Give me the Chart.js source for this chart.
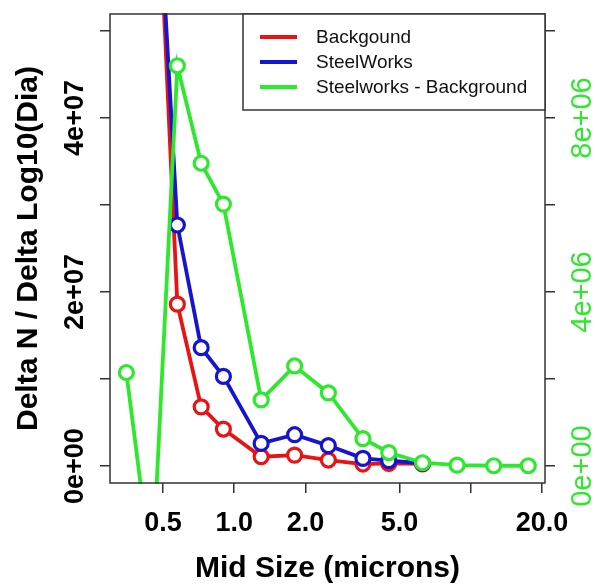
<!DOCTYPE html>
<html>
<head>
<meta charset="utf-8">
<script src="https://cdn.jsdelivr.net/npm/chart.js@4"></script>
<style>
  body { margin: 0; background: #fff; }
  canvas { display: block; }
</style>
</head>
<body>
<canvas id="sizeChart" width="595" height="586"></canvas>
<script>
// bin mid sizes (microns)
const midSizes = [0.35, 0.45, 0.575, 0.725, 0.9, 1.3, 1.8, 2.5, 3.5, 4.5, 6.25, 8.75, 12.5, 17.5];

// left axis
const background = [1.50e8, 8.2e7, 1.86e7, 6.8e6, 4.25e6, 1.07e6, 1.26e6, 6.9e5, 2.3e5, 3.0e5, 2.5e5];
const steelworks = [1.52e8, 7.95e7, 2.77e7, 1.36e7, 1.03e7, 2.6e6, 3.6e6, 2.35e6, 8.8e5, 6.2e5, 3.2e5];

// right axis
const difference = [2.15e6, -2.5e6, 9.2e6, 6.96e6, 6.02e6, 1.52e6, 2.30e6, 1.68e6, 6.3e5, 3.1e5, 7.6e4, 2.0e4, 7e3, 7e3];

const xTicks = [0.5, 1, 2, 5, 10, 20];
const xTickLabels = ["0.5", "1.0", "2.0", "5.0", "", "20.0"];
const leftTicks = [0, 1e7, 2e7, 3e7, 4e7, 5e7];
const leftTickLabels = ["0e+00", "", "2e+07", "", "4e+07", ""];
const rightTicks = [0, 2e6, 4e6, 6e6, 8e6, 10e6];
const rightTickLabels = ["0e+00", "", "4e+06", "", "8e+06", ""];

const RED = "#e81414";
const BLUE = "#1414d2";
const GREEN = "#2ee82e";
const AXIS = "#333";
const FONT = "'Liberation Sans', Arial, sans-serif";

function toPoints(values) {
  return values.map((y, i) => ({ x: midSizes[i], y }));
}

function lineSet(label, values, color, axis, order) {
  return {
    label,
    data: toPoints(values),
    yAxisID: axis,
    borderColor: color,
    borderWidth: 3.8,
    pointRadius: 7,
    pointBorderWidth: 3.2,
    pointBorderColor: color,
    pointBackgroundColor: "#fff",
    tension: 0,
    clip: 1,
    order,
  };
}

const gridOpts = {
  display: true,
  drawOnChartArea: false,
  drawTicks: true,
  tickLength: 10,
  color: AXIS,
  lineWidth: 1.5,
};

// tick labels, axis titles, frame and legend drawn in R style
const rStyle = {
  id: "rStyle",
  afterDraw(chart) {
    const { ctx, chartArea, scales } = chart;
    ctx.save();

    ctx.strokeStyle = AXIS;
    ctx.lineWidth = 1.5;
    ctx.strokeRect(chartArea.left, chartArea.top,
      chartArea.right - chartArea.left, chartArea.bottom - chartArea.top);

    ctx.fillStyle = "#000";
    ctx.font = "bold 27px " + FONT;
    ctx.textAlign = "center";
    ctx.textBaseline = "alphabetic";
    xTicks.forEach((v, i) => {
      if (xTickLabels[i]) ctx.fillText(xTickLabels[i], scales.x.getPixelForValue(v), 531);
    });

    leftTicks.forEach((v, i) => {
      if (!leftTickLabels[i]) return;
      ctx.save();
      ctx.translate(83, scales.y.getPixelForValue(v));
      ctx.rotate(-Math.PI / 2);
      ctx.fillText(leftTickLabels[i], 0, 0);
      ctx.restore();
    });

    ctx.fillStyle = GREEN;
    ctx.font = "29px " + FONT;
    rightTicks.forEach((v, i) => {
      if (!rightTickLabels[i]) return;
      ctx.save();
      ctx.translate(591, scales.y1.getPixelForValue(v));
      ctx.rotate(-Math.PI / 2);
      ctx.fillText(rightTickLabels[i], 0, 0);
      ctx.restore();
    });

    ctx.fillStyle = "#000";
    ctx.font = "bold 30px " + FONT;
    ctx.fillText("Mid Size (microns)", (chartArea.left + chartArea.right) / 2, 577);
    ctx.save();
    ctx.translate(37, (chartArea.top + chartArea.bottom) / 2);
    ctx.rotate(-Math.PI / 2);
    ctx.fillText("Delta N / Delta Log10(Dia)", 0, 0);
    ctx.restore();

    // legend box
    const boxLeft = 243;
    ctx.fillStyle = "#fff";
    ctx.fillRect(boxLeft, chartArea.top, chartArea.right - boxLeft, 96);
    ctx.strokeStyle = AXIS;
    ctx.lineWidth = 1.5;
    ctx.strokeRect(boxLeft, chartArea.top, chartArea.right - boxLeft, 96);
    ctx.font = "19px " + FONT;
    ctx.textAlign = "left";
    ctx.textBaseline = "middle";
    chart.data.datasets.forEach((ds, i) => {
      const y = 37 + i * 25;
      ctx.strokeStyle = ds.borderColor;
      ctx.lineWidth = 4;
      ctx.beginPath();
      ctx.moveTo(260, y);
      ctx.lineTo(297, y);
      ctx.stroke();
      ctx.fillStyle = "#111";
      ctx.fillText(ds.label, 316, y + 1);
    });

    ctx.restore();
  },
};

new Chart(document.getElementById("sizeChart"), {
  type: "line",
  data: {
    datasets: [
      lineSet("Backgound", background, RED, "y", 2),
      lineSet("SteelWorks", steelworks, BLUE, "y", 1),
      lineSet("Steelworks - Background", difference, GREEN, "y1", 0),
    ],
  },
  options: {
    responsive: false,
    animation: false,
    layout: { padding: { top: 14, left: 0, right: 0, bottom: 0 } },
    plugins: { legend: { display: false }, tooltip: { enabled: false } },
    scales: {
      x: {
        type: "logarithmic",
        min: 0.2985,
        max: 20.59,
        afterBuildTicks: (scale) => { scale.ticks = xTicks.map((value) => ({ value })); },
        afterFit: (scale) => { scale.height = 103; },
        ticks: { display: false },
        grid: gridOpts,
        border: { display: false },
      },
      y: {
        position: "left",
        min: -0.195e7,
        max: 5.195e7,
        afterBuildTicks: (scale) => { scale.ticks = leftTicks.map((value) => ({ value })); },
        afterFit: (scale) => { scale.width = 110; },
        ticks: { display: false },
        grid: gridOpts,
        border: { display: false },
      },
      y1: {
        position: "right",
        min: -0.39e6,
        max: 10.39e6,
        afterBuildTicks: (scale) => { scale.ticks = rightTicks.map((value) => ({ value })); },
        afterFit: (scale) => { scale.width = 50; },
        ticks: { display: false },
        grid: gridOpts,
        border: { display: false },
      },
    },
  },
  plugins: [rStyle],
});
</script>
</body>
</html>
